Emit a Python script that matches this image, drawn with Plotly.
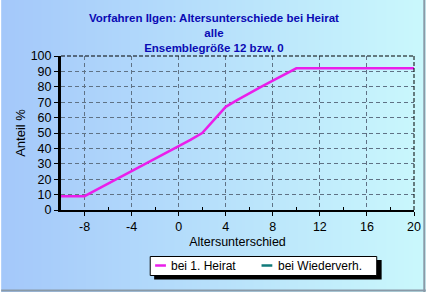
import base64, struct, zlib
import plotly.graph_objects as go

# ---------------- data ----------------
alter = [-10, -9, -8, -7, -6, -5, -4, -3, -2, -1, 0, 1, 2, 3, 4, 5, 6, 7, 8, 9, 10,
         11, 12, 13, 14, 15, 16, 17, 18, 19, 20]
bei_heirat = [9, 9, 9, 13, 17, 21, 25, 29, 33, 37, 41, 45.5, 50, 58.5, 67, 71.5, 76, 80, 84, 88, 92,
              92, 92, 92, 92, 92, 92, 92, 92, 92, 92]
bei_wiederverh_x = []
bei_wiederverh_y = []
x_ticks = [-8, -4, 0, 4, 8, 12, 16, 20]
x_ticktext = ["-8", "-4", "0", "4", "8", "12", "16", "20"]
y_ticks = [0, 10, 20, 30, 40, 50, 60, 70, 80, 90, 100]
title_lines = ["Vorfahren Ilgen: Altersunterschiede bei Heirat", "alle", "Ensemblegröße 12 bzw. 0"]
series_names = ["bei 1. Heirat", "bei Wiederverh."]

# ---------------- geometry ----------------
W, H = 433, 292
L, R, T, B = 61, 12, 56, 82
PW, PH = W - L - R, H - T - B
FONT = "Liberation Sans, Arial, sans-serif"


def px(xp):
    return (xp - L) / PW


def py(yp):
    return 1 - (yp - T) / PH


def gradient_png(width, c0, c1):
    row = bytearray()
    for i in range(width):
        t = i / (width - 1)
        row += bytes(int(round(c0[k] + (c1[k] - c0[k]) * t)) for k in range(3))
    raw = b"\x00" + bytes(row)

    def chunk(tag, data):
        c = struct.pack(">I", len(data)) + tag + data
        return c + struct.pack(">I", zlib.crc32(tag + data) & 0xffffffff)

    png = b"\x89PNG\r\n\x1a\n"
    png += chunk(b"IHDR", struct.pack(">IIBBBBB", width, 1, 8, 2, 0, 0, 0))
    png += chunk(b"IDAT", zlib.compress(raw))
    png += chunk(b"IEND", b"")
    return "data:image/png;base64," + base64.b64encode(png).decode()


bg = gradient_png(W, (164, 200, 250), (202, 248, 252))

fig = go.Figure()
fig.add_trace(go.Scatter(x=alter, y=bei_heirat, mode="lines", name=series_names[0],
                         line=dict(color="#ea1eea", width=2.5), showlegend=False))
fig.add_trace(go.Scatter(x=bei_wiederverh_x, y=bei_wiederverh_y, mode="lines", name=series_names[1],
                         line=dict(color="#107a7a", width=2.5), showlegend=False))

shapes = []
# frame top/right dashed
shapes.append(dict(type="line", xref="paper", yref="paper", x0=0, x1=1, y0=1, y1=1,
                   line=dict(color="black", width=1, dash="4px,2px")))
shapes.append(dict(type="line", xref="paper", yref="paper", x0=1, x1=1, y0=0, y1=1,
                   line=dict(color="black", width=1, dash="4px,2px")))
# outer border (right/bottom gray)
shapes.append(dict(type="line", xref="paper", yref="paper", x0=px(W - 1.5), x1=px(W - 1.5),
                   y0=py(0), y1=py(H), line=dict(color="#8a9aa8", width=2)))
shapes.append(dict(type="line", xref="paper", yref="paper", x0=px(0), x1=px(W),
                   y0=py(H - 1.5), y1=py(H - 1.5), line=dict(color="#8a9aa8", width=2)))
# legend shadow and box
shapes.append(dict(type="rect", xref="paper", yref="paper", x0=px(156), x1=px(388),
                   y0=py(260), y1=py(279.5), fillcolor="black", line=dict(width=0)))
shapes.append(dict(type="rect", xref="paper", yref="paper", x0=px(152), x1=px(383),
                   y0=py(256.5), y1=py(275.5), fillcolor="white", line=dict(color="black", width=1)))
# legend symbols
shapes.append(dict(type="line", xref="paper", yref="paper", x0=px(157), x1=px(168),
                   y0=py(265.5), y1=py(265.5), line=dict(color="#ea1eea", width=2.5)))
shapes.append(dict(type="line", xref="paper", yref="paper", x0=px(265.5), x1=px(276.5),
                   y0=py(265.5), y1=py(265.5), line=dict(color="#107a7a", width=2.5)))

annotations = []
annotations.append(dict(text="<br>".join("<b>" + t + "</b>" for t in title_lines),
                        xref="paper", yref="paper", x=px(217), y=py(32.5),
                        xanchor="center", yanchor="middle", align="center",
                        showarrow=False, font=dict(family=FONT, size=11.5, color="#0a0ab4")))
annotations.append(dict(text=series_names[0], xref="paper", yref="paper", x=px(171), y=py(266),
                        xanchor="left", yanchor="middle", showarrow=False,
                        font=dict(family=FONT, size=12, color="black")))
annotations.append(dict(text=series_names[1], xref="paper", yref="paper", x=px(280), y=py(266),
                        xanchor="left", yanchor="middle", showarrow=False,
                        font=dict(family=FONT, size=12, color="black")))

fig.update_layout(
    width=W, height=H,
    margin=dict(l=L, r=R, t=T, b=B, pad=0),
    paper_bgcolor="rgba(0,0,0,0)",
    plot_bgcolor="rgba(0,0,0,0)",
    font=dict(family=FONT, size=12, color="black"),
    showlegend=False,
    shapes=shapes,
    annotations=annotations,
    images=[dict(source=bg, xref="paper", yref="paper", x=px(0), y=py(0),
                 sizex=W / PW, sizey=H / PH, xanchor="left", yanchor="top",
                 sizing="stretch", layer="below")],
    xaxis=dict(range=[-10, 20], tickmode="array", tickvals=x_ticks, ticktext=x_ticktext,
               ticks="outside", ticklen=4, tickcolor="black", tickwidth=1,
               showline=True, linecolor="black", linewidth=2,
               showgrid=True, gridcolor="#5f7285", gridwidth=1, griddash="4px,3px",
               zeroline=False, tickfont=dict(size=12.5),
               minor=dict(tickmode="array", tickvals=[-6, -2, 2, 6, 10, 14, 18],
                          ticks="inside", ticklen=3, tickcolor="black", showgrid=False),
               title=dict(text="Altersunterschied", font=dict(size=12.5), standoff=4)),
    yaxis=dict(range=[0, 100], tickmode="array", tickvals=y_ticks,
               ticks="outside", ticklen=4, tickcolor="black", tickwidth=1,
               showline=True, linecolor="black", linewidth=3,
               showgrid=True, gridcolor="#5f7285", gridwidth=1, griddash="4px,3px",
               zeroline=False, tickfont=dict(size=12.5),
               title=dict(text="Anteil %", font=dict(size=13), standoff=3)),
)

fig.write_html("out.html")
